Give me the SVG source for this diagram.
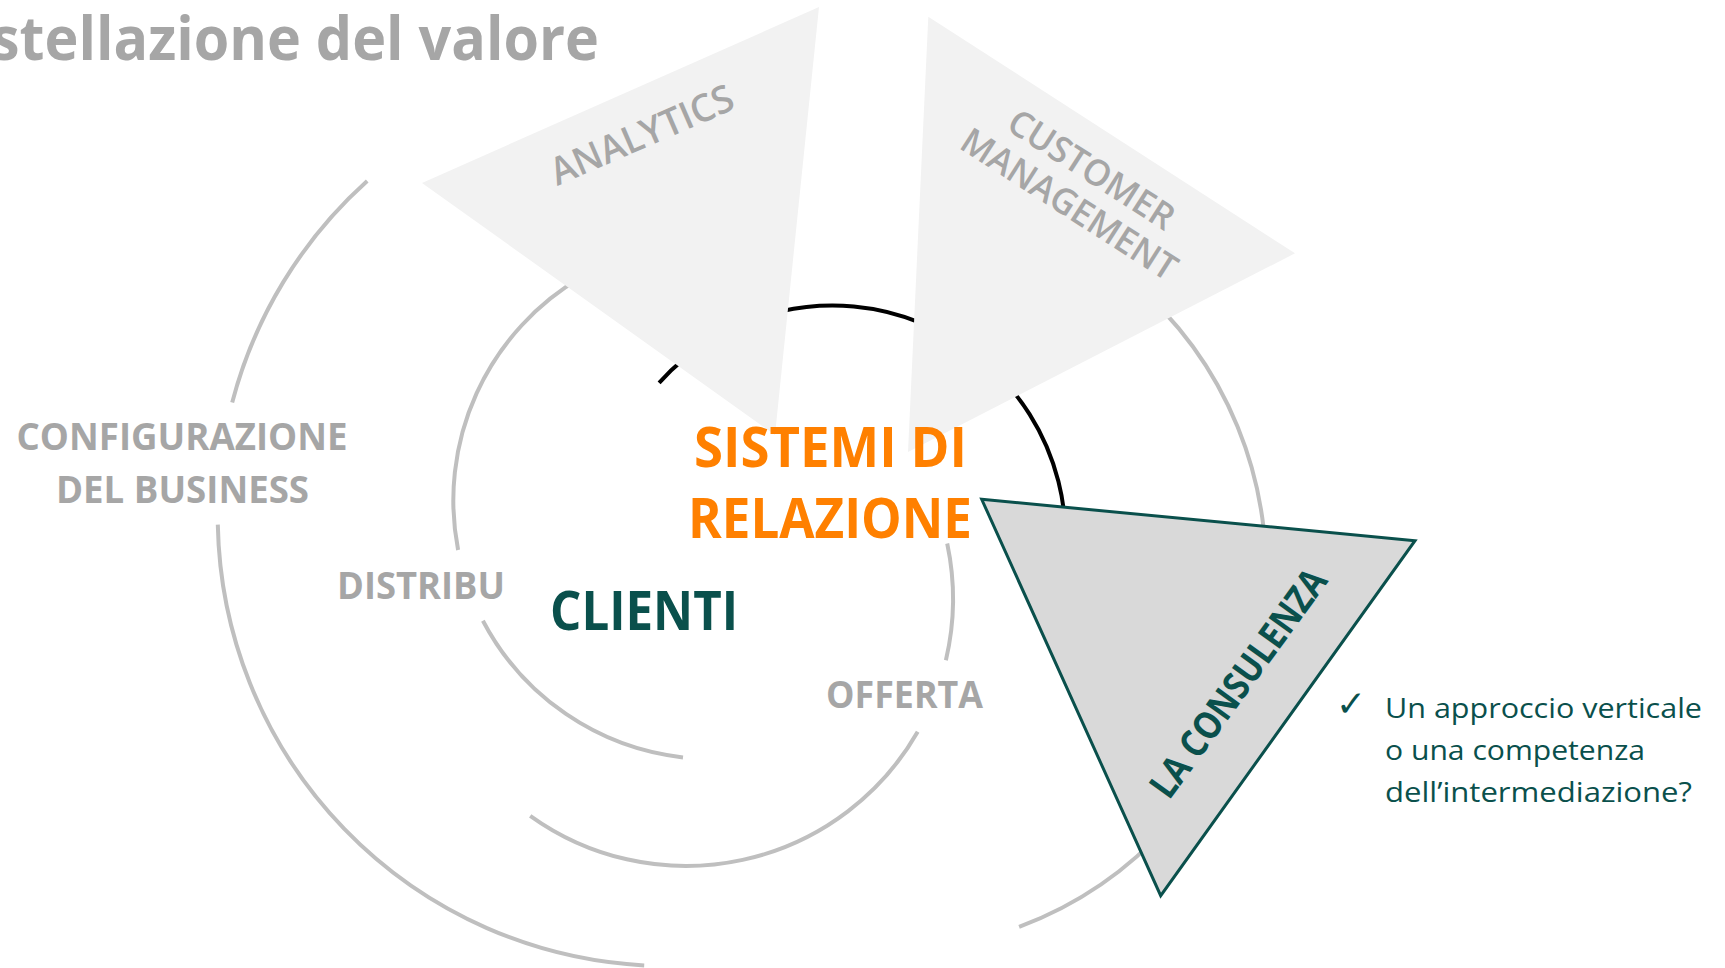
<svg xmlns="http://www.w3.org/2000/svg" width="1725" height="968" viewBox="0 0 1725 968">
  <style>
    .ring { fill: none; stroke: #BFBFBF; stroke-width: 4; }
    .core { fill: none; stroke: #000000; stroke-width: 4; }
    .pane { fill: #F2F2F2; stroke: none; }
    .focus { fill: #D9D9D9; stroke: #0A504C; stroke-width: 3; stroke-linejoin: miter; }
    .lbl { font-family: "Open Sans", "Liberation Sans", sans-serif; font-weight: 700; fill: #A6A6A6; }
    .lbl-thin { font-family: "Open Sans", "Liberation Sans", sans-serif; font-weight: 600; fill: #A6A6A6; }
    .teal { font-family: "Open Sans", "Liberation Sans", sans-serif; fill: #0A504C; }
    .orange { font-family: "Open Sans", "Liberation Sans", sans-serif; font-weight: 700; fill: #FF8000; }
  </style>

  <!-- title, running off the left edge -->
  <g id="title">
    <text class="lbl" x="-9" y="60" font-size="61" textLength="608" lengthAdjust="spacingAndGlyphs">stellazione del valore</text>
  </g>

  <!-- open rings of the constellation -->
  <g id="rings">
    <!-- outer ring: configurazione del business -->
    <path class="ring" d="M367.2,181.1 A450,450 0 0 0 232.2,402.6"/>
    <path class="ring" d="M217.8,524.6 A450,450 0 0 0 644.2,965.4"/>
    <!-- distribuzione ring -->
    <path class="ring" d="M582.6,276.6 A258.5,258.5 0 0 0 458.1,550"/>
    <path class="ring" d="M482.9,620.7 A258.5,258.5 0 0 0 683,757.4"/>
    <!-- offerta ring -->
    <path class="ring" d="M947.2,543.5 A267,267 0 0 1 945.9,660.2"/>
    <path class="ring" d="M917.7,731.7 A267,267 0 0 1 530.2,815.8"/>
    <!-- right-hand ring -->
    <path class="ring" d="M1130.3,279.9 A380,380 0 0 1 1019.1,926.9"/>
    <!-- sistemi di relazione ring -->
    <path class="core" d="M659.1,382.9 A233,233 0 0 1 1065.2,550.7"/>
  </g>

  <g id="ring-configurazione">
    <text class="lbl" x="182" y="450" font-size="37.5" text-anchor="middle" textLength="331" lengthAdjust="spacingAndGlyphs">CONFIGURAZIONE</text>
    <text class="lbl" x="182.5" y="503" font-size="37.5" text-anchor="middle" textLength="253" lengthAdjust="spacingAndGlyphs">DEL BUSINESS</text>
  </g>

  <g id="ring-distribuzione">
    <text class="lbl" x="337" y="599" font-size="37" textLength="168" lengthAdjust="spacingAndGlyphs">DISTRIBU</text>
  </g>

  <g id="ring-offerta">
    <text class="lbl" x="826" y="708" font-size="37" textLength="157" lengthAdjust="spacingAndGlyphs">OFFERTA</text>
  </g>

  <g id="analytics">
    <polygon class="pane" points="422,183 819,7 775,435"/>
    <text class="lbl-thin" transform="translate(647,147) rotate(-23.5)" x="0" y="0" font-size="38" text-anchor="middle" textLength="196" lengthAdjust="spacingAndGlyphs">ANALYTICS</text>
  </g>

  <g id="customer-management">
    <polygon class="pane" points="928.3,16.7 1295,253.3 908,452"/>
    <g transform="translate(1080.5,186.5) rotate(32.7)">
      <text class="lbl-thin" x="0" y="-7.7" font-size="36" text-anchor="middle" textLength="190" lengthAdjust="spacingAndGlyphs">CUSTOMER</text>
      <text class="lbl-thin" x="0" y="33.5" font-size="36" text-anchor="middle" textLength="249" lengthAdjust="spacingAndGlyphs">MANAGEMENT</text>
    </g>
  </g>

  <g id="la-consulenza">
    <polygon class="focus" points="981.7,499.3 1415,540.7 1160.7,895.7"/>
    <text class="teal" font-weight="700" transform="translate(1249,691) rotate(-54)" x="0" y="0" font-size="38" text-anchor="middle" textLength="272" lengthAdjust="spacingAndGlyphs">LA CONSULENZA</text>
  </g>

  <g id="sistemi-di-relazione">
    <text class="orange" x="694" y="467" font-size="56" textLength="273" lengthAdjust="spacingAndGlyphs">SISTEMI DI</text>
    <text class="orange" x="688" y="538" font-size="56" textLength="284" lengthAdjust="spacingAndGlyphs">RELAZIONE</text>
  </g>

  <g id="clienti">
    <text class="teal" font-weight="700" x="550" y="630" font-size="53" textLength="188" lengthAdjust="spacingAndGlyphs">CLIENTI</text>
  </g>

  <g id="note">
    <text x="1336" y="716" font-family="DejaVu Sans, sans-serif" font-weight="700" font-size="36" fill="#0A504C">✓</text>
    <text class="teal" x="1385" y="717.5" font-size="28" textLength="317" lengthAdjust="spacingAndGlyphs">Un approccio verticale</text>
    <text class="teal" x="1385" y="760" font-size="28" textLength="260" lengthAdjust="spacingAndGlyphs">o una competenza</text>
    <text class="teal" x="1385" y="802" font-size="28" textLength="307" lengthAdjust="spacingAndGlyphs">dell’intermediazione?</text>
  </g>
</svg>
